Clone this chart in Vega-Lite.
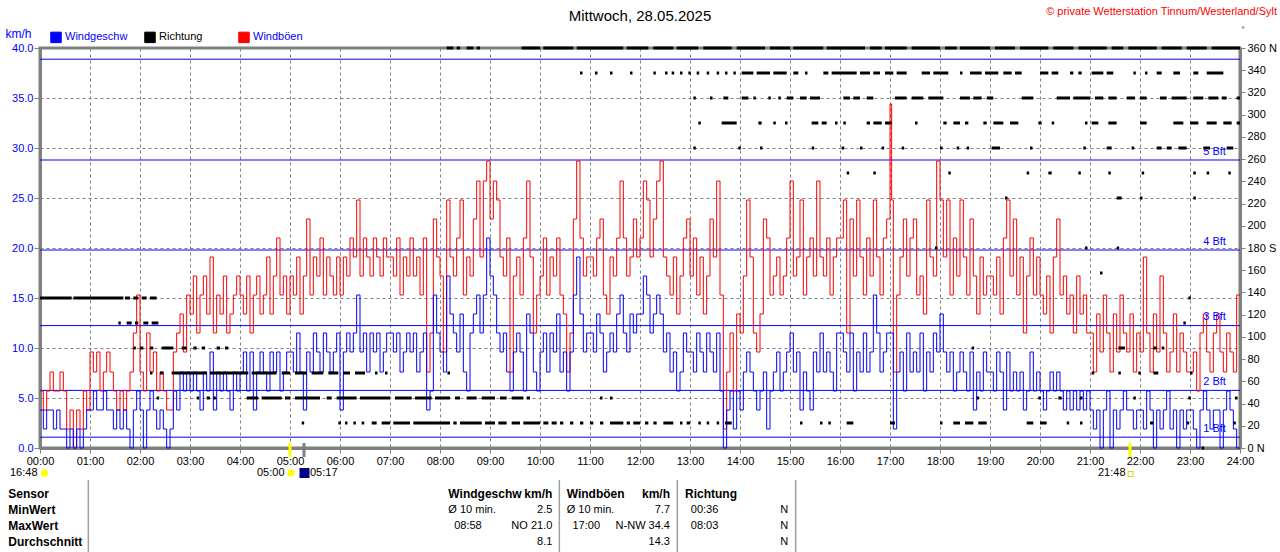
{
  "$schema": "https://vega.github.io/schema/vega-lite/v6.json",
  "width": 1200,
  "height": 400,
  "autosize": "none",
  "padding": {"left": 40, "top": 48, "right": 40, "bottom": 104},
  "background": "white",
  "config": {
    "font": "Liberation Sans",
    "view": {"stroke": "#808080", "strokeWidth": 3},
    "axis": {"labelFont": "Liberation Sans", "labelFontSize": 11}
  },
  "datasets": {
    "wind": [
      {"m":0,"w":3.8,"g":5.7},{"m":4,"w":1.9,"g":3.8},{"m":8,"w":3.8,"g":5.7},{"m":12,"w":3.8,"g":7.6},{"m":16,"w":1.9,"g":5.7},{"m":20,"w":3.8,"g":5.7},{"m":24,"w":1.9,"g":7.6},{"m":28,"w":1.9,"g":5.7},{"m":32,"w":0,"g":1.9},{"m":36,"w":1.9,"g":3.8},{"m":40,"w":0,"g":0},{"m":44,"w":1.9,"g":3.8},{"m":48,"w":0,"g":1.9},{"m":52,"w":1.9,"g":5.7},{"m":56,"w":3.8,"g":3.8},
      {"m":60,"w":3.8,"g":9.6},{"m":64,"w":5.7,"g":7.6},{"m":68,"w":3.8,"g":9.6},{"m":72,"w":3.8,"g":5.7},{"m":76,"w":5.7,"g":7.6},{"m":80,"w":3.8,"g":9.6},{"m":84,"w":3.8,"g":7.6},{"m":88,"w":1.9,"g":5.7},{"m":92,"w":3.8,"g":3.8},{"m":96,"w":1.9,"g":5.7},{"m":100,"w":3.8,"g":3.8},{"m":104,"w":1.9,"g":5.7},{"m":108,"w":0,"g":7.6},{"m":112,"w":3.8,"g":11.5},{"m":116,"w":5.7,"g":15.3},
      {"m":120,"w":3.8,"g":7.6},{"m":124,"w":0,"g":5.7},{"m":128,"w":3.8,"g":11.5},{"m":132,"w":5.7,"g":7.6},{"m":136,"w":3.8,"g":9.6},{"m":140,"w":1.9,"g":5.7},{"m":144,"w":3.8,"g":7.6},{"m":148,"w":1.9,"g":5.7},{"m":152,"w":0,"g":3.8},{"m":156,"w":1.9,"g":3.8},{"m":160,"w":5.7,"g":9.6},{"m":164,"w":3.8,"g":11.5},{"m":168,"w":7.6,"g":13.4},{"m":172,"w":5.7,"g":9.6},{"m":176,"w":7.6,"g":15.3},
      {"m":180,"w":5.7,"g":13.4},{"m":184,"w":7.6,"g":17.2},{"m":188,"w":5.7,"g":11.5},{"m":192,"w":3.8,"g":15.3},{"m":196,"w":7.6,"g":17.2},{"m":200,"w":5.7,"g":13.4},{"m":204,"w":9.6,"g":19.1},{"m":208,"w":3.8,"g":11.5},{"m":212,"w":7.6,"g":15.3},{"m":216,"w":5.7,"g":13.4},{"m":220,"w":7.6,"g":17.2},{"m":224,"w":5.7,"g":11.5},{"m":228,"w":3.8,"g":13.4},{"m":232,"w":7.6,"g":15.3},{"m":236,"w":5.7,"g":17.2},
      {"m":240,"w":7.6,"g":15.3},{"m":244,"w":9.6,"g":13.4},{"m":248,"w":5.7,"g":17.2},{"m":252,"w":9.6,"g":11.5},{"m":256,"w":3.8,"g":15.3},{"m":260,"w":7.6,"g":17.2},{"m":264,"w":9.6,"g":13.4},{"m":268,"w":7.6,"g":15.3},{"m":272,"w":5.7,"g":19.1},{"m":276,"w":9.6,"g":13.4},{"m":280,"w":7.6,"g":17.2},{"m":284,"w":9.6,"g":21},{"m":288,"w":5.7,"g":15.3},{"m":292,"w":7.6,"g":17.2},{"m":296,"w":9.6,"g":13.4},
      {"m":300,"w":9.6,"g":17.2},{"m":304,"w":7.6,"g":15.3},{"m":308,"w":11.5,"g":19.1},{"m":312,"w":7.6,"g":13.4},{"m":316,"w":3.8,"g":17.2},{"m":320,"w":9.6,"g":22.9},{"m":324,"w":7.6,"g":15.3},{"m":328,"w":11.5,"g":19.1},{"m":332,"w":9.6,"g":17.2},{"m":336,"w":7.6,"g":21},{"m":340,"w":11.5,"g":15.3},{"m":344,"w":9.6,"g":19.1},{"m":348,"w":7.6,"g":17.2},{"m":352,"w":9.6,"g":15.3},{"m":356,"w":11.5,"g":19.1},
      {"m":360,"w":3.8,"g":15.3},{"m":364,"w":9.6,"g":19.1},{"m":368,"w":11.5,"g":17.2},{"m":372,"w":9.6,"g":21},{"m":376,"w":11.5,"g":19.1},{"m":380,"w":15.3,"g":24.8},{"m":384,"w":9.6,"g":17.2},{"m":388,"w":11.5,"g":21},{"m":392,"w":7.6,"g":19.1},{"m":396,"w":11.5,"g":17.2},{"m":400,"w":9.6,"g":21},{"m":404,"w":11.5,"g":19.1},{"m":408,"w":7.6,"g":17.2},{"m":412,"w":9.6,"g":21},{"m":416,"w":11.5,"g":19.1},
      {"m":420,"w":11.5,"g":19.1},{"m":424,"w":9.6,"g":17.2},{"m":428,"w":11.5,"g":21},{"m":432,"w":7.6,"g":15.3},{"m":436,"w":9.6,"g":19.1},{"m":440,"w":11.5,"g":17.2},{"m":444,"w":9.6,"g":21},{"m":448,"w":11.5,"g":17.2},{"m":452,"w":7.6,"g":19.1},{"m":456,"w":9.6,"g":15.3},{"m":460,"w":11.5,"g":21},{"m":464,"w":3.8,"g":7.6},{"m":468,"w":5.7,"g":11.5},{"m":472,"w":15.3,"g":22.9},{"m":476,"w":11.5,"g":19.1},
      {"m":480,"w":9.6,"g":17.2},{"m":484,"w":7.6,"g":9.6},{"m":488,"w":17.2,"g":24.8},{"m":492,"w":13.4,"g":19.1},{"m":496,"w":11.5,"g":17.2},{"m":500,"w":9.6,"g":21},{"m":504,"w":13.4,"g":24.8},{"m":508,"w":7.6,"g":15.3},{"m":512,"w":5.7,"g":19.1},{"m":516,"w":11.5,"g":17.2},{"m":520,"w":13.4,"g":22.9},{"m":524,"w":15.3,"g":26.7},{"m":528,"w":11.5,"g":19.1},{"m":532,"w":15.3,"g":26.7},{"m":536,"w":21,"g":28.7},
      {"m":540,"w":17.2,"g":22.9},{"m":544,"w":15.3,"g":26.7},{"m":548,"w":11.5,"g":24.8},{"m":552,"w":9.6,"g":19.1},{"m":556,"w":11.5,"g":17.2},{"m":560,"w":7.6,"g":21},{"m":564,"w":5.7,"g":7.6},{"m":568,"w":9.6,"g":17.2},{"m":572,"w":11.5,"g":19.1},{"m":576,"w":9.6,"g":15.3},{"m":580,"w":5.7,"g":21},{"m":584,"w":13.4,"g":26.7},{"m":588,"w":11.5,"g":19.1},{"m":592,"w":7.6,"g":11.5},{"m":596,"w":5.7,"g":15.3},
      {"m":600,"w":9.6,"g":17.2},{"m":604,"w":11.5,"g":21},{"m":608,"w":7.6,"g":15.3},{"m":612,"w":11.5,"g":19.1},{"m":616,"w":9.6,"g":17.2},{"m":620,"w":13.4,"g":21},{"m":624,"w":7.6,"g":15.3},{"m":628,"w":9.6,"g":13.4},{"m":632,"w":5.7,"g":7.6},{"m":636,"w":9.6,"g":11.5},{"m":640,"w":15.3,"g":22.9},{"m":644,"w":19.1,"g":28.7},{"m":648,"w":13.4,"g":21},{"m":652,"w":9.6,"g":17.2},{"m":656,"w":11.5,"g":19.1},
      {"m":660,"w":11.5,"g":19.1},{"m":664,"w":9.6,"g":17.2},{"m":668,"w":13.4,"g":21},{"m":672,"w":11.5,"g":22.9},{"m":676,"w":7.6,"g":15.3},{"m":680,"w":9.6,"g":13.4},{"m":684,"w":11.5,"g":19.1},{"m":688,"w":9.6,"g":17.2},{"m":692,"w":13.4,"g":21},{"m":696,"w":15.3,"g":26.7},{"m":700,"w":11.5,"g":21},{"m":704,"w":9.6,"g":17.2},{"m":708,"w":13.4,"g":19.1},{"m":712,"w":11.5,"g":22.9},{"m":716,"w":13.4,"g":19.1},
      {"m":720,"w":13.4,"g":21},{"m":724,"w":17.2,"g":26.7},{"m":728,"w":15.3,"g":24.8},{"m":732,"w":11.5,"g":19.1},{"m":736,"w":13.4,"g":22.9},{"m":740,"w":15.3,"g":26.7},{"m":744,"w":13.4,"g":28.7},{"m":748,"w":9.6,"g":19.1},{"m":752,"w":11.5,"g":17.2},{"m":756,"w":7.6,"g":15.3},{"m":760,"w":9.6,"g":19.1},{"m":764,"w":5.7,"g":13.4},{"m":768,"w":7.6,"g":17.2},{"m":772,"w":11.5,"g":21},{"m":776,"w":9.6,"g":22.9},
      {"m":780,"w":9.6,"g":17.2},{"m":784,"w":7.6,"g":21},{"m":788,"w":11.5,"g":15.3},{"m":792,"w":9.6,"g":19.1},{"m":796,"w":7.6,"g":13.4},{"m":800,"w":11.5,"g":17.2},{"m":804,"w":9.6,"g":22.9},{"m":808,"w":7.6,"g":19.1},{"m":812,"w":11.5,"g":26.7},{"m":816,"w":5.7,"g":15.3},{"m":820,"w":0,"g":1.9},{"m":824,"w":3.8,"g":7.6},{"m":828,"w":5.7,"g":11.5},{"m":832,"w":1.9,"g":5.7},{"m":836,"w":5.7,"g":13.4},
      {"m":840,"w":3.8,"g":11.5},{"m":844,"w":7.6,"g":17.2},{"m":848,"w":9.6,"g":24.8},{"m":852,"w":7.6,"g":19.1},{"m":856,"w":5.7,"g":11.5},{"m":860,"w":3.8,"g":9.6},{"m":864,"w":5.7,"g":13.4},{"m":868,"w":7.6,"g":22.9},{"m":872,"w":1.9,"g":21},{"m":876,"w":5.7,"g":15.3},{"m":880,"w":7.6,"g":17.2},{"m":884,"w":9.6,"g":19.1},{"m":888,"w":5.7,"g":15.3},{"m":892,"w":7.6,"g":17.2},{"m":896,"w":9.6,"g":21},
      {"m":900,"w":11.5,"g":26.7},{"m":904,"w":7.6,"g":17.2},{"m":908,"w":9.6,"g":19.1},{"m":912,"w":3.8,"g":24.8},{"m":916,"w":7.6,"g":15.3},{"m":920,"w":5.7,"g":19.1},{"m":924,"w":3.8,"g":21},{"m":928,"w":9.6,"g":17.2},{"m":932,"w":7.6,"g":26.7},{"m":936,"w":11.5,"g":19.1},{"m":940,"w":7.6,"g":17.2},{"m":944,"w":9.6,"g":21},{"m":948,"w":7.6,"g":15.3},{"m":952,"w":5.7,"g":19.1},{"m":956,"w":11.5,"g":21},
      {"m":960,"w":11.5,"g":21},{"m":964,"w":9.6,"g":24.8},{"m":968,"w":7.6,"g":11.5},{"m":972,"w":11.5,"g":22.9},{"m":976,"w":5.7,"g":17.2},{"m":980,"w":9.6,"g":24.8},{"m":984,"w":7.6,"g":19.1},{"m":988,"w":11.5,"g":15.3},{"m":992,"w":7.6,"g":21},{"m":996,"w":9.6,"g":17.2},{"m":1000,"w":15.3,"g":24.8},{"m":1004,"w":11.5,"g":19.1},{"m":1008,"w":7.6,"g":15.3},{"m":1012,"w":9.6,"g":21},{"m":1016,"w":11.5,"g":22.9},
      {"m":1020,"w":11.5,"g":34.4},{"m":1022,"w":11.5,"g":24.8},{"m":1024,"w":1.9,"g":7.6},{"m":1028,"w":7.6,"g":15.3},{"m":1032,"w":9.6,"g":19.1},{"m":1036,"w":5.7,"g":22.9},{"m":1040,"w":11.5,"g":17.2},{"m":1044,"w":7.6,"g":21},{"m":1048,"w":9.6,"g":22.9},{"m":1052,"w":7.6,"g":15.3},{"m":1056,"w":11.5,"g":17.2},{"m":1060,"w":5.7,"g":13.4},{"m":1064,"w":9.6,"g":24.8},{"m":1068,"w":7.6,"g":19.1},{"m":1072,"w":11.5,"g":17.2},{"m":1076,"w":9.6,"g":28.7},
      {"m":1080,"w":13.4,"g":24.8},{"m":1084,"w":9.6,"g":19.1},{"m":1088,"w":7.6,"g":24.8},{"m":1092,"w":9.6,"g":15.3},{"m":1096,"w":5.7,"g":21},{"m":1100,"w":7.6,"g":17.2},{"m":1104,"w":9.6,"g":24.8},{"m":1108,"w":7.6,"g":19.1},{"m":1112,"w":5.7,"g":15.3},{"m":1116,"w":9.6,"g":22.9},{"m":1120,"w":3.8,"g":17.2},{"m":1124,"w":7.6,"g":13.4},{"m":1128,"w":5.7,"g":19.1},{"m":1132,"w":9.6,"g":15.3},{"m":1136,"w":7.6,"g":17.2},
      {"m":1140,"w":7.6,"g":17.2},{"m":1144,"w":5.7,"g":15.3},{"m":1148,"w":9.6,"g":19.1},{"m":1152,"w":7.6,"g":13.4},{"m":1156,"w":3.8,"g":21},{"m":1160,"w":9.6,"g":24.8},{"m":1164,"w":5.7,"g":17.2},{"m":1168,"w":7.6,"g":22.9},{"m":1172,"w":5.7,"g":15.3},{"m":1176,"w":7.6,"g":19.1},{"m":1180,"w":3.8,"g":11.5},{"m":1184,"w":5.7,"g":17.2},{"m":1188,"w":9.6,"g":21},{"m":1192,"w":5.7,"g":15.3},{"m":1196,"w":7.6,"g":19.1},
      {"m":1200,"w":5.7,"g":15.3},{"m":1204,"w":3.8,"g":13.4},{"m":1208,"w":5.7,"g":17.2},{"m":1212,"w":7.6,"g":11.5},{"m":1216,"w":5.7,"g":19.1},{"m":1220,"w":7.6,"g":22.9},{"m":1224,"w":5.7,"g":15.3},{"m":1228,"w":3.8,"g":17.2},{"m":1232,"w":5.7,"g":13.4},{"m":1236,"w":3.8,"g":15.3},{"m":1240,"w":5.7,"g":11.5},{"m":1244,"w":3.8,"g":17.2},{"m":1248,"w":5.7,"g":13.4},{"m":1252,"w":3.8,"g":15.3},{"m":1256,"w":5.7,"g":11.5},
      {"m":1260,"w":3.8,"g":11.5},{"m":1264,"w":1.9,"g":7.6},{"m":1268,"w":3.8,"g":13.4},{"m":1272,"w":0,"g":9.6},{"m":1276,"w":3.8,"g":15.3},{"m":1280,"w":5.7,"g":11.5},{"m":1284,"w":0,"g":7.6},{"m":1288,"w":3.8,"g":13.4},{"m":1292,"w":1.9,"g":9.6},{"m":1296,"w":3.8,"g":15.3},{"m":1300,"w":5.7,"g":11.5},{"m":1304,"w":3.8,"g":9.6},{"m":1308,"w":3.8,"g":13.4},{"m":1312,"w":1.9,"g":7.6},{"m":1316,"w":3.8,"g":11.5},
      {"m":1320,"w":3.8,"g":9.6},{"m":1324,"w":1.9,"g":19.1},{"m":1328,"w":5.7,"g":11.5},{"m":1332,"w":3.8,"g":7.6},{"m":1336,"w":0,"g":13.4},{"m":1340,"w":3.8,"g":9.6},{"m":1344,"w":1.9,"g":17.2},{"m":1348,"w":3.8,"g":11.5},{"m":1352,"w":5.7,"g":7.6},{"m":1356,"w":1.9,"g":9.6},{"m":1360,"w":3.8,"g":13.4},{"m":1364,"w":0,"g":7.6},{"m":1368,"w":3.8,"g":11.5},{"m":1372,"w":1.9,"g":9.6},{"m":1376,"w":3.8,"g":7.6},
      {"m":1380,"w":3.8,"g":7.6},{"m":1384,"w":1.9,"g":9.6},{"m":1388,"w":0,"g":5.7},{"m":1392,"w":3.8,"g":11.5},{"m":1396,"w":5.7,"g":13.4},{"m":1400,"w":3.8,"g":9.6},{"m":1404,"w":1.9,"g":7.6},{"m":1408,"w":3.8,"g":11.5},{"m":1412,"w":3.8,"g":13.4},{"m":1416,"w":0,"g":9.6},{"m":1420,"w":3.8,"g":7.6},{"m":1424,"w":5.7,"g":11.5},{"m":1428,"w":3.8,"g":9.6},{"m":1432,"w":1.9,"g":7.6},{"m":1436,"w":0,"g":15.3},{"m":1440,"w":0,"g":15.3}
    ],
    "dir": [
      {"s":0,"e":38,"d":135},{"s":40,"e":100,"d":135},{"s":102,"e":108,"d":135},{"s":112,"e":118,"d":135},{"s":122,"e":128,"d":135},{"s":132,"e":140,"d":135},
      {"s":94,"e":97,"d":112.5},{"s":104,"e":110,"d":112.5},{"s":114,"e":118,"d":112.5},{"s":124,"e":130,"d":112.5},{"s":134,"e":142,"d":112.5},
      {"s":112,"e":115,"d":90},{"s":120,"e":124,"d":90},{"s":132,"e":136,"d":90},{"s":146,"e":160,"d":90},{"s":170,"e":176,"d":90},{"s":184,"e":188,"d":90},{"s":194,"e":198,"d":90},{"s":212,"e":216,"d":90},{"s":222,"e":226,"d":90},
      {"s":132,"e":135,"d":67.5},{"s":144,"e":148,"d":67.5},{"s":158,"e":200,"d":67.5},{"s":204,"e":250,"d":67.5},{"s":254,"e":284,"d":67.5},{"s":290,"e":300,"d":67.5},{"s":306,"e":320,"d":67.5},{"s":326,"e":340,"d":67.5},{"s":346,"e":358,"d":67.5},{"s":364,"e":372,"d":67.5},{"s":378,"e":390,"d":67.5},{"s":402,"e":405,"d":67.5},{"s":414,"e":417,"d":67.5},{"s":489,"e":492,"d":67.5},
      {"s":140,"e":143,"d":45},{"s":188,"e":191,"d":45},{"s":200,"e":204,"d":45},{"s":208,"e":211,"d":45},{"s":248,"e":262,"d":45},{"s":266,"e":290,"d":45},{"s":294,"e":300,"d":45},{"s":306,"e":336,"d":45},{"s":344,"e":350,"d":45},{"s":356,"e":380,"d":45},{"s":384,"e":420,"d":45},{"s":426,"e":446,"d":45},{"s":450,"e":470,"d":45},{"s":474,"e":492,"d":45},{"s":498,"e":504,"d":45},{"s":512,"e":524,"d":45},{"s":530,"e":546,"d":45},{"s":552,"e":560,"d":45},{"s":566,"e":580,"d":45},{"s":584,"e":588,"d":45},{"s":672,"e":675,"d":45},{"s":684,"e":687,"d":45},
      {"s":314,"e":317,"d":22.5},{"s":358,"e":361,"d":22.5},{"s":366,"e":369,"d":22.5},{"s":376,"e":379,"d":22.5},{"s":386,"e":389,"d":22.5},{"s":398,"e":404,"d":22.5},{"s":410,"e":420,"d":22.5},{"s":424,"e":444,"d":22.5},{"s":448,"e":492,"d":22.5},{"s":496,"e":500,"d":22.5},{"s":504,"e":530,"d":22.5},{"s":534,"e":546,"d":22.5},{"s":550,"e":560,"d":22.5},{"s":566,"e":576,"d":22.5},{"s":580,"e":600,"d":22.5},{"s":604,"e":610,"d":22.5},{"s":614,"e":620,"d":22.5},{"s":624,"e":628,"d":22.5},{"s":636,"e":640,"d":22.5},{"s":648,"e":652,"d":22.5},{"s":660,"e":664,"d":22.5},{"s":672,"e":676,"d":22.5},{"s":684,"e":700,"d":22.5},{"s":704,"e":708,"d":22.5},{"s":712,"e":720,"d":22.5},{"s":726,"e":730,"d":22.5},{"s":736,"e":740,"d":22.5},{"s":748,"e":760,"d":22.5},{"s":768,"e":771,"d":22.5},{"s":776,"e":780,"d":22.5},{"s":790,"e":793,"d":22.5},{"s":800,"e":803,"d":22.5},{"s":812,"e":815,"d":22.5},{"s":822,"e":830,"d":22.5},{"s":912,"e":915,"d":22.5},{"s":936,"e":939,"d":22.5},{"s":946,"e":949,"d":22.5},{"s":968,"e":976,"d":22.5},{"s":1020,"e":1026,"d":22.5},{"s":1080,"e":1083,"d":22.5},{"s":1096,"e":1104,"d":22.5},{"s":1110,"e":1120,"d":22.5},{"s":1126,"e":1136,"d":22.5},{"s":1184,"e":1192,"d":22.5},{"s":1200,"e":1208,"d":22.5},{"s":1232,"e":1235,"d":22.5},{"s":1248,"e":1251,"d":22.5},{"s":1332,"e":1336,"d":22.5},{"s":1376,"e":1379,"d":22.5},{"s":1432,"e":1435,"d":22.5},
      {"s":1394,"e":1397,"d":0},
      {"s":488,"e":496,"d":360},{"s":500,"e":504,"d":360},{"s":512,"e":520,"d":360},{"s":524,"e":528,"d":360},{"s":578,"e":600,"d":360},{"s":604,"e":640,"d":360},{"s":644,"e":700,"d":360},{"s":704,"e":730,"d":360},{"s":736,"e":760,"d":360},{"s":764,"e":790,"d":360},{"s":796,"e":830,"d":360},{"s":836,"e":870,"d":360},{"s":876,"e":900,"d":360},{"s":904,"e":940,"d":360},{"s":944,"e":990,"d":360},{"s":996,"e":1010,"d":360},{"s":1014,"e":1040,"d":360},{"s":1046,"e":1080,"d":360},{"s":1086,"e":1100,"d":360},{"s":1104,"e":1140,"d":360},{"s":1146,"e":1170,"d":360},{"s":1176,"e":1210,"d":360},{"s":1216,"e":1240,"d":360},{"s":1246,"e":1280,"d":360},{"s":1286,"e":1300,"d":360},{"s":1306,"e":1340,"d":360},{"s":1346,"e":1370,"d":360},{"s":1376,"e":1400,"d":360},{"s":1406,"e":1440,"d":360},
      {"s":648,"e":651,"d":337.5},{"s":666,"e":669,"d":337.5},{"s":684,"e":687,"d":337.5},{"s":708,"e":711,"d":337.5},{"s":736,"e":739,"d":337.5},{"s":750,"e":753,"d":337.5},{"s":758,"e":761,"d":337.5},{"s":768,"e":771,"d":337.5},{"s":778,"e":781,"d":337.5},{"s":788,"e":791,"d":337.5},{"s":800,"e":803,"d":337.5},{"s":812,"e":815,"d":337.5},{"s":822,"e":825,"d":337.5},{"s":832,"e":835,"d":337.5},{"s":842,"e":856,"d":337.5},{"s":860,"e":876,"d":337.5},{"s":880,"e":896,"d":337.5},{"s":904,"e":910,"d":337.5},{"s":918,"e":921,"d":337.5},{"s":940,"e":946,"d":337.5},{"s":950,"e":980,"d":337.5},{"s":984,"e":996,"d":337.5},{"s":1000,"e":1008,"d":337.5},{"s":1014,"e":1024,"d":337.5},{"s":1028,"e":1040,"d":337.5},{"s":1058,"e":1068,"d":337.5},{"s":1072,"e":1090,"d":337.5},{"s":1104,"e":1107,"d":337.5},{"s":1116,"e":1130,"d":337.5},{"s":1134,"e":1150,"d":337.5},{"s":1156,"e":1166,"d":337.5},{"s":1170,"e":1178,"d":337.5},{"s":1200,"e":1210,"d":337.5},{"s":1214,"e":1222,"d":337.5},{"s":1236,"e":1240,"d":337.5},{"s":1246,"e":1250,"d":337.5},{"s":1262,"e":1276,"d":337.5},{"s":1280,"e":1288,"d":337.5},{"s":1312,"e":1315,"d":337.5},{"s":1326,"e":1329,"d":337.5},{"s":1340,"e":1346,"d":337.5},{"s":1360,"e":1368,"d":337.5},{"s":1384,"e":1390,"d":337.5},{"s":1400,"e":1420,"d":337.5},
      {"s":784,"e":787,"d":315},{"s":804,"e":807,"d":315},{"s":820,"e":826,"d":315},{"s":842,"e":850,"d":315},{"s":856,"e":859,"d":315},{"s":874,"e":877,"d":315},{"s":886,"e":889,"d":315},{"s":896,"e":904,"d":315},{"s":912,"e":920,"d":315},{"s":924,"e":936,"d":315},{"s":964,"e":972,"d":315},{"s":976,"e":984,"d":315},{"s":992,"e":1000,"d":315},{"s":1026,"e":1040,"d":315},{"s":1046,"e":1060,"d":315},{"s":1066,"e":1084,"d":315},{"s":1104,"e":1116,"d":315},{"s":1120,"e":1130,"d":315},{"s":1136,"e":1144,"d":315},{"s":1178,"e":1192,"d":315},{"s":1220,"e":1236,"d":315},{"s":1240,"e":1260,"d":315},{"s":1266,"e":1276,"d":315},{"s":1282,"e":1292,"d":315},{"s":1304,"e":1314,"d":315},{"s":1320,"e":1328,"d":315},{"s":1344,"e":1352,"d":315},{"s":1358,"e":1376,"d":315},{"s":1384,"e":1396,"d":315},{"s":1402,"e":1414,"d":315},{"s":1418,"e":1424,"d":315},{"s":1436,"e":1440,"d":315},
      {"s":790,"e":793,"d":292.5},{"s":818,"e":836,"d":292.5},{"s":862,"e":866,"d":292.5},{"s":880,"e":883,"d":292.5},{"s":894,"e":897,"d":292.5},{"s":926,"e":934,"d":292.5},{"s":938,"e":944,"d":292.5},{"s":954,"e":957,"d":292.5},{"s":964,"e":967,"d":292.5},{"s":992,"e":996,"d":292.5},{"s":1000,"e":1010,"d":292.5},{"s":1014,"e":1022,"d":292.5},{"s":1050,"e":1053,"d":292.5},{"s":1084,"e":1088,"d":292.5},{"s":1096,"e":1104,"d":292.5},{"s":1110,"e":1114,"d":292.5},{"s":1132,"e":1136,"d":292.5},{"s":1144,"e":1156,"d":292.5},{"s":1164,"e":1174,"d":292.5},{"s":1198,"e":1202,"d":292.5},{"s":1214,"e":1217,"d":292.5},{"s":1254,"e":1257,"d":292.5},{"s":1262,"e":1270,"d":292.5},{"s":1282,"e":1292,"d":292.5},{"s":1320,"e":1328,"d":292.5},{"s":1360,"e":1372,"d":292.5},{"s":1380,"e":1390,"d":292.5},{"s":1400,"e":1412,"d":292.5},{"s":1420,"e":1430,"d":292.5},{"s":1436,"e":1440,"d":292.5},
      {"s":784,"e":787,"d":270},{"s":838,"e":841,"d":270},{"s":864,"e":867,"d":270},{"s":926,"e":929,"d":270},{"s":962,"e":965,"d":270},{"s":984,"e":987,"d":270},{"s":1010,"e":1013,"d":270},{"s":1034,"e":1037,"d":270},{"s":1080,"e":1083,"d":270},{"s":1100,"e":1103,"d":270},{"s":1112,"e":1115,"d":270},{"s":1142,"e":1152,"d":270},{"s":1188,"e":1191,"d":270},{"s":1252,"e":1255,"d":270},{"s":1280,"e":1286,"d":270},{"s":1310,"e":1313,"d":270},{"s":1340,"e":1346,"d":270},{"s":1352,"e":1358,"d":270},{"s":1366,"e":1376,"d":270},{"s":1396,"e":1404,"d":270},{"s":1424,"e":1432,"d":270},
      {"s":968,"e":971,"d":247.5},{"s":1000,"e":1003,"d":247.5},{"s":1090,"e":1093,"d":247.5},{"s":1184,"e":1187,"d":247.5},{"s":1210,"e":1214,"d":247.5},{"s":1246,"e":1249,"d":247.5},{"s":1282,"e":1285,"d":247.5},{"s":1322,"e":1325,"d":247.5},{"s":1384,"e":1387,"d":247.5},{"s":1400,"e":1403,"d":247.5},{"s":1426,"e":1429,"d":247.5},
      {"s":1158,"e":1161,"d":225},{"s":1292,"e":1298,"d":225},{"s":1320,"e":1323,"d":225},{"s":1384,"e":1387,"d":225},
      {"s":1074,"e":1077,"d":180},{"s":1254,"e":1257,"d":180},{"s":1292,"e":1295,"d":180},
      {"s":1272,"e":1275,"d":157.5},{"s":1378,"e":1381,"d":135},{"s":1372,"e":1375,"d":112.5},
      {"s":1118,"e":1121,"d":90},{"s":1294,"e":1302,"d":90},{"s":1336,"e":1340,"d":90},{"s":1346,"e":1349,"d":90},
      {"s":1262,"e":1265,"d":67.5},{"s":1294,"e":1297,"d":67.5},{"s":1318,"e":1321,"d":67.5},{"s":1336,"e":1342,"d":67.5},{"s":1380,"e":1383,"d":67.5},
      {"s":1124,"e":1127,"d":45},{"s":1198,"e":1201,"d":45},{"s":1222,"e":1226,"d":45},{"s":1248,"e":1251,"d":45},{"s":1312,"e":1315,"d":45},{"s":1378,"e":1381,"d":45},{"s":1434,"e":1437,"d":45}
    ],
    "bft": [
      {"b":1.08,"l":"1 Bft"},{"b":5.76,"l":"2 Bft"},{"b":12.24,"l":"3 Bft"},{"b":19.8,"l":"4 Bft"},{"b":28.8,"l":"5 Bft"},{"b":38.88,"l":""}
    ],
    "ttl": [{"t":720,"v":43.25,"txt":"Mittwoch, 28.05.2025"}],
    "times": [
      {"t":-36,"v":-2.5,"txt":"16:48"},{"t":260.4,"v":-2.5,"txt":"05:00"},{"t":324,"v":-2.5,"txt":"05:17"},{"t":1269.6,"v":-2.5,"txt":"21:48"}
    ],
    "sun": [{"t":5.4,"v":-2.5},{"t":301,"v":-2.5}],
    "moon": [{"t":317.4,"v":-2.5}],
    "sunset": [{"t":1308.6,"v":-2.6}],
    "sunmark": [{"t":300,"v1":0.5,"v2":-0.9},{"t":1308,"v1":0.5,"v2":-0.9}],
    "moonmark": [{"t":316.8,"v1":0.5,"v2":-0.9}],
    "seps": [{"t":58,"v1":-3.2,"v2":-10.4},{"t":623.2,"v1":-3.2,"v2":-10.4},{"t":764.8,"v1":-3.2,"v2":-10.4},{"t":906.8,"v1":-3.2,"v2":-10.4}],
    "headL": [
      {"t":-38,"v":-4.6,"txt":"Sensor"},{"t":-38,"v":-6.2,"txt":"MinWert"},{"t":-38,"v":-7.8,"txt":"MaxWert"},{"t":-38,"v":-9.4,"txt":"Durchschnitt"},
      {"t":490,"v":-4.6,"txt":"Windgeschw"},{"t":632,"v":-4.6,"txt":"Windböen"},{"t":774,"v":-4.6,"txt":"Richtung"}
    ],
    "headR": [{"t":614.8,"v":-4.6,"txt":"km/h"},{"t":756,"v":-4.6,"txt":"km/h"}],
    "cellL": [
      {"t":490,"v":-6.2,"txt":"Ø 10 min."},{"t":497,"v":-7.8,"txt":"08:58"},
      {"t":632,"v":-6.2,"txt":"Ø 10 min."},{"t":639,"v":-7.8,"txt":"17:00"},
      {"t":781,"v":-6.2,"txt":"00:36"},{"t":781,"v":-7.8,"txt":"08:03"}
    ],
    "cellR": [
      {"t":614.8,"v":-6.2,"txt":"2.5"},{"t":614.8,"v":-7.8,"txt":"NO 21.0"},{"t":614.8,"v":-9.4,"txt":"8.1"},
      {"t":756,"v":-6.2,"txt":"7.7"},{"t":756,"v":-7.8,"txt":"N-NW 34.4"},{"t":756,"v":-9.4,"txt":"14.3"}
    ],
    "cellC": [{"t":893,"v":-6.2,"txt":"N"},{"t":893,"v":-7.8,"txt":"N"},{"t":893,"v":-9.4,"txt":"N"}],
    "notes": [{"t":1484.4,"v":43.6,"txt":"© private Wetterstation Tinnum/Westerland/Sylt"}],
    "deg": [{"t":1443.6,"v":41.8,"txt":"°"}]
  },
  "resolve": {"scale": {"y": "independent"}},
  "layer": [
    {
      "layer": [
        {
          "data": {"name": "bft"},
          "mark": {"type": "rule", "stroke": "#0000ff", "strokeWidth": 1, "opacity": 1},
          "encoding": {
            "y": {"field": "b", "type": "quantitative", "scale": {"domain": [0, 40], "nice": false, "zero": false}}
          }
        },
        {
          "data": {"name": "wind"},
          "mark": {"type": "line", "interpolate": "step-after", "strokeWidth": 1},
          "encoding": {
            "x": {
              "field": "m", "type": "quantitative",
              "scale": {"domain": [0, 1440], "nice": false, "zero": false},
              "axis": {
                "values": [0,60,120,180,240,300,360,420,480,540,600,660,720,780,840,900,960,1020,1080,1140,1200,1260,1320,1380,1440],
                "labelExpr": "(datum.value < 600 ? '0' : '') + floor(datum.value / 60) + ':00'",
                "grid": true, "gridDash": [3, 3], "gridColor": "#808080", "gridWidth": 1,
                "domainColor": "#808080", "domainWidth": 3, "tickColor": "#808080", "tickSize": 5,
                "labelColor": "black", "labelPadding": 2, "labelFlush": false, "labelOverlap": false, "title": null
              }
            },
            "y": {
              "field": "g", "type": "quantitative",
              "scale": {"domain": [0, 40], "nice": false, "zero": false},
              "axis": {
                "values": [0, 5, 10, 15, 20, 25, 30, 35, 40], "format": ".1f",
                "grid": true, "gridDash": [3, 3], "gridColor": "#808080", "gridWidth": 1,
                "domainColor": "#808080", "domainWidth": 3, "tickColor": "#808080", "tickSize": 6,
                "labelColor": "#0000ff", "labelPadding": 1,
                "title": "km/h", "titleAngle": 0, "titleColor": "#0000ff", "titleFontSize": 12, "titleFontWeight": "normal",
                "titleX": -35, "titleY": -15, "titleAlign": "left", "titleBaseline": "middle"
              }
            },
            "color": {
              "datum": "Windböen",
              "scale": {"domain": ["Windgeschw", "Richtung", "Windböen"], "range": ["#0000ff", "#000000", "#ff0000"]},
              "legend": {
                "orient": "none", "legendX": 10, "legendY": -17, "direction": "horizontal", "columns": 3,
                "title": null, "symbolType": "square", "symbolSize": 110, "symbolStrokeColor": "black", "symbolStrokeWidth": 1,
                "labelFontSize": 11, "labelFont": "Liberation Sans", "labelOffset": 3, "labelColor": "#0000ff",
                "padding": 0, "columnPadding": 14, "gridAlign": "all",
                "encode": {
                  "symbols": {"update": {"fill": {"signal": "scale('color', datum.value)"}, "fillOpacity": {"value": 1}, "stroke": {"value": "black"}, "strokeWidth": {"value": 1}}},
                  "labels": {"update": {"fill": {"signal": "datum.value === 'Richtung' ? 'black' : '#0000ff'"}}}
                }
              }
            }
          }
        },
        {
          "data": {"name": "wind"},
          "mark": {"type": "line", "interpolate": "step-after", "strokeWidth": 1},
          "encoding": {
            "x": {"field": "m", "type": "quantitative", "scale": {"domain": [0, 1440], "nice": false, "zero": false}},
            "y": {"field": "w", "type": "quantitative", "scale": {"domain": [0, 40], "nice": false, "zero": false}},
            "color": {"datum": "Windgeschw"}
          }
        },
        {
          "data": {"name": "bft"},
          "mark": {"type": "text", "align": "right", "baseline": "middle", "dy": -8.5, "color": "#0000ff", "fontSize": 11},
          "encoding": {
            "x": {"datum": 1423, "type": "quantitative", "scale": {"domain": [0, 1440], "nice": false, "zero": false}},
            "y": {"field": "b", "type": "quantitative", "scale": {"domain": [0, 40], "nice": false, "zero": false}},
            "text": {"field": "l"}
          }
        },
        {
          "data": {"name": "sunmark"},
          "mark": {"type": "rule", "color": "#ffff00", "strokeWidth": 3},
          "encoding": {
            "x": {"field": "t", "type": "quantitative", "scale": {"domain": [0, 1440], "nice": false, "zero": false}},
            "y": {"field": "v1", "type": "quantitative", "scale": {"domain": [0, 40], "nice": false, "zero": false}},
            "y2": {"field": "v2"}
          }
        },
        {
          "data": {"name": "moonmark"},
          "mark": {"type": "rule", "color": "#808080", "strokeWidth": 3},
          "encoding": {
            "x": {"field": "t", "type": "quantitative", "scale": {"domain": [0, 1440], "nice": false, "zero": false}},
            "y": {"field": "v1", "type": "quantitative", "scale": {"domain": [0, 40], "nice": false, "zero": false}},
            "y2": {"field": "v2"}
          }
        },
        {
          "data": {"name": "seps"},
          "mark": {"type": "rule", "color": "#a0a0a0", "strokeWidth": 1.5},
          "encoding": {
            "x": {"field": "t", "type": "quantitative", "scale": {"domain": [0, 1440], "nice": false, "zero": false}},
            "y": {"field": "v1", "type": "quantitative", "scale": {"domain": [0, 40], "nice": false, "zero": false}},
            "y2": {"field": "v2"}
          }
        },
        {
          "data": {"name": "sun"},
          "mark": {"type": "point", "shape": "circle", "filled": true, "color": "#ffff00", "size": 50, "opacity": 1},
          "encoding": {
            "x": {"field": "t", "type": "quantitative", "scale": {"domain": [0, 1440], "nice": false, "zero": false}},
            "y": {"field": "v", "type": "quantitative", "scale": {"domain": [0, 40], "nice": false, "zero": false}}
          }
        },
        {
          "data": {"name": "moon"},
          "mark": {"type": "point", "shape": "square", "filled": true, "color": "#000080", "size": 100, "opacity": 1},
          "encoding": {
            "x": {"field": "t", "type": "quantitative", "scale": {"domain": [0, 1440], "nice": false, "zero": false}},
            "y": {"field": "v", "type": "quantitative", "scale": {"domain": [0, 40], "nice": false, "zero": false}}
          }
        },
        {
          "data": {"name": "sunset"},
          "mark": {"type": "point", "shape": "square", "filled": false, "color": "#e0d000", "size": 25, "strokeWidth": 1, "opacity": 1},
          "encoding": {
            "x": {"field": "t", "type": "quantitative", "scale": {"domain": [0, 1440], "nice": false, "zero": false}},
            "y": {"field": "v", "type": "quantitative", "scale": {"domain": [0, 40], "nice": false, "zero": false}}
          }
        },
        {
          "data": {"name": "ttl"},
          "mark": {"type": "text", "align": "center", "baseline": "middle", "fontSize": 15, "color": "black"},
          "encoding": {
            "x": {"field": "t", "type": "quantitative", "scale": {"domain": [0, 1440], "nice": false, "zero": false}},
            "y": {"field": "v", "type": "quantitative", "scale": {"domain": [0, 40], "nice": false, "zero": false}},
            "text": {"field": "txt"}
          }
        },
        {
          "data": {"name": "times"},
          "mark": {"type": "text", "align": "left", "baseline": "middle", "fontSize": 11, "color": "black"},
          "encoding": {
            "x": {"field": "t", "type": "quantitative", "scale": {"domain": [0, 1440], "nice": false, "zero": false}},
            "y": {"field": "v", "type": "quantitative", "scale": {"domain": [0, 40], "nice": false, "zero": false}},
            "text": {"field": "txt"}
          }
        },
        {
          "data": {"name": "headL"},
          "mark": {"type": "text", "align": "left", "baseline": "middle", "fontSize": 12, "fontWeight": "bold", "color": "black"},
          "encoding": {
            "x": {"field": "t", "type": "quantitative", "scale": {"domain": [0, 1440], "nice": false, "zero": false}},
            "y": {"field": "v", "type": "quantitative", "scale": {"domain": [0, 40], "nice": false, "zero": false}},
            "text": {"field": "txt"}
          }
        },
        {
          "data": {"name": "headR"},
          "mark": {"type": "text", "align": "right", "baseline": "middle", "fontSize": 12, "fontWeight": "bold", "color": "black"},
          "encoding": {
            "x": {"field": "t", "type": "quantitative", "scale": {"domain": [0, 1440], "nice": false, "zero": false}},
            "y": {"field": "v", "type": "quantitative", "scale": {"domain": [0, 40], "nice": false, "zero": false}},
            "text": {"field": "txt"}
          }
        },
        {
          "data": {"name": "cellL"},
          "mark": {"type": "text", "align": "left", "baseline": "middle", "fontSize": 11, "color": "black"},
          "encoding": {
            "x": {"field": "t", "type": "quantitative", "scale": {"domain": [0, 1440], "nice": false, "zero": false}},
            "y": {"field": "v", "type": "quantitative", "scale": {"domain": [0, 40], "nice": false, "zero": false}},
            "text": {"field": "txt"}
          }
        },
        {
          "data": {"name": "cellR"},
          "mark": {"type": "text", "align": "right", "baseline": "middle", "fontSize": 11, "color": "black"},
          "encoding": {
            "x": {"field": "t", "type": "quantitative", "scale": {"domain": [0, 1440], "nice": false, "zero": false}},
            "y": {"field": "v", "type": "quantitative", "scale": {"domain": [0, 40], "nice": false, "zero": false}},
            "text": {"field": "txt"}
          }
        },
        {
          "data": {"name": "cellC"},
          "mark": {"type": "text", "align": "center", "baseline": "middle", "fontSize": 11, "color": "black"},
          "encoding": {
            "x": {"field": "t", "type": "quantitative", "scale": {"domain": [0, 1440], "nice": false, "zero": false}},
            "y": {"field": "v", "type": "quantitative", "scale": {"domain": [0, 40], "nice": false, "zero": false}},
            "text": {"field": "txt"}
          }
        },
        {
          "data": {"name": "notes"},
          "mark": {"type": "text", "align": "right", "baseline": "middle", "fontSize": 11, "color": "#ff0000"},
          "encoding": {
            "x": {"field": "t", "type": "quantitative", "scale": {"domain": [0, 1440], "nice": false, "zero": false}},
            "y": {"field": "v", "type": "quantitative", "scale": {"domain": [0, 40], "nice": false, "zero": false}},
            "text": {"field": "txt"}
          }
        },
        {
          "data": {"name": "deg"},
          "mark": {"type": "text", "align": "center", "baseline": "middle", "fontSize": 8, "color": "black"},
          "encoding": {
            "x": {"field": "t", "type": "quantitative", "scale": {"domain": [0, 1440], "nice": false, "zero": false}},
            "y": {"field": "v", "type": "quantitative", "scale": {"domain": [0, 40], "nice": false, "zero": false}},
            "text": {"field": "txt"}
          }
        }
      ]
    },
    {
      "data": {"name": "dir"},
      "mark": {"type": "rule", "strokeWidth": 3, "strokeCap": "butt"},
      "encoding": {
        "x": {"field": "s", "type": "quantitative", "scale": {"domain": [0, 1440], "nice": false, "zero": false}, "title": null},
        "x2": {"field": "e"},
        "y": {
          "field": "d", "type": "quantitative",
          "scale": {"domain": [0, 360], "nice": false, "zero": false},
          "axis": {
            "orient": "right",
            "values": [0,20,40,60,80,100,120,140,160,180,200,220,240,260,280,300,320,340,360],
            "labelExpr": "datum.value === 0 ? '0    N' : datum.value === 180 ? '180 S' : datum.value === 360 ? '360 N' : datum.label",
            "grid": false, "domainColor": "#808080", "domainWidth": 3, "tickColor": "#808080", "tickSize": 5,
            "labelColor": "black", "labelPadding": 2, "title": null
          }
        },
        "color": {"datum": "Richtung"}
      }
    }
  ]
}
